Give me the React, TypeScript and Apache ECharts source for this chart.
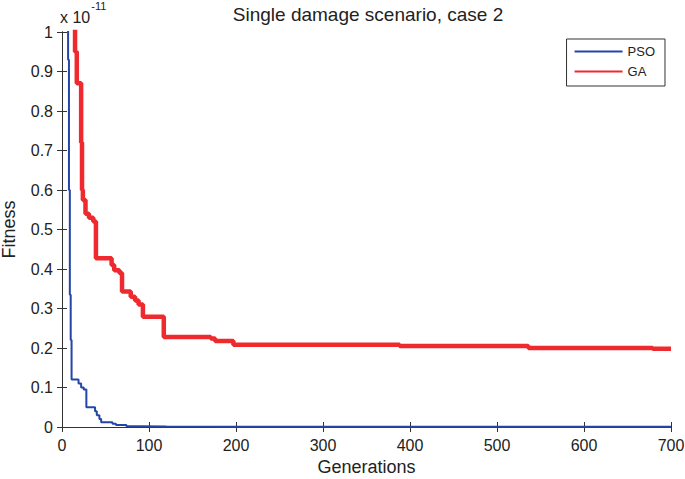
import React, { useEffect, useRef } from "react";
import * as echarts from "echarts";

const xTicks = [0, 100, 200, 300, 400, 500, 600, 700];
const yTicks = [0, 0.1, 0.2, 0.3, 0.4, 0.5, 0.6, 0.7, 0.8, 0.9, 1];

// [generation, fitness (x 1e-11)] — value held from this generation onward
const psoData: [number, number][] = [
  [1, 3], [7, 0.93], [8, 0.6], [9, 0.335], [10, 0.22], [11, 0.12], [19, 0.11],
  [22, 0.1], [25, 0.095], [28, 0.05], [38, 0.04], [40, 0.03], [43, 0.02],
  [45, 0.012], [58, 0.008], [62, 0.005], [74, 0.002], [90, 0.001],
  [120, 0.0005], [700, 0.0005],
];
const gaData: [number, number][] = [
  [1, 3], [15, 0.95], [17, 0.87], [22, 0.72], [23, 0.6], [24, 0.575],
  [27, 0.54], [31, 0.53], [36, 0.52], [39, 0.427], [57, 0.41], [60, 0.397],
  [66, 0.39], [69, 0.343], [79, 0.33], [84, 0.32], [88, 0.31], [93, 0.279],
  [117, 0.228], [171, 0.224], [176, 0.218], [197, 0.208], [388, 0.205],
  [536, 0.2], [679, 0.198], [700, 0.198],
];

const FONT = "Liberation Sans, Arial, sans-serif";

export default function App() {
  const ref = useRef<HTMLDivElement>(null);
  useEffect(() => {
    if (!ref.current) return;
    const chart = echarts.init(ref.current, undefined, { renderer: "svg" });
    const axisLine = { show: true, lineStyle: { color: "#333", width: 1 } };
    const axisTick = { show: true, inside: true, length: 5, lineStyle: { color: "#333" } };
    chart.setOption({
      animation: false,
      backgroundColor: "#fff",
      title: {
        text: "Single damage scenario, case 2",
        left: 363,
        textAlign: "center",
        top: 0,
        textStyle: { fontFamily: FONT, fontSize: 19, fontWeight: "normal", color: "#222" },
      },
      graphic: [
        {
          type: "text",
          left: 60,
          top: 0,
          style: {
            text: "{a|x 10}{b|-11}",
            rich: {
              a: { fontFamily: FONT, fontSize: 16, fill: "#222", padding: [9, 0, 0, 0] },
              b: { fontFamily: FONT, fontSize: 11, fill: "#222", verticalAlign: "top", padding: [0, 0, 10, 1] },
            },
          },
        },
      ],
      legend: {
        right: 20,
        top: 39,
        orient: "vertical",
        backgroundColor: "#fff",
        borderColor: "#333",
        borderWidth: 1,
        borderRadius: 0,
        padding: [6, 10, 8, 7],
        itemWidth: 48,
        itemHeight: 14,
        itemGap: 7,
        itemTextGap: 6,
        itemStyle: { opacity: 0 },
        textStyle: { fontFamily: FONT, fontSize: 13, color: "#222" },
        data: ["PSO", "GA"],
      },
      grid: {
        left: 62,
        right: 14,
        top: 32,
        bottom: 52,
        show: false,
        containLabel: false,
        outerBoundsMode: "none",
      },
      xAxis: [
        {
          type: "value",
          min: 0,
          max: 700,
          interval: 100,
          name: "Generations",
          nameLocation: "middle",
          nameGap: 30,
          nameTextStyle: { fontFamily: FONT, fontSize: 18, color: "#222" },
          axisLine,
          axisTick,
          splitLine: { show: false },
          axisLabel: { fontFamily: FONT, fontSize: 16, color: "#222", margin: 10 },
        },
        {
          type: "value",
          position: "top",
          min: 0,
          max: 700,
          interval: 100,
          axisLine,
          axisTick,
          splitLine: { show: false },
          axisLabel: { show: false },
        },
      ],
      yAxis: [
        {
          type: "value",
          min: 0,
          max: 1,
          interval: 0.1,
          name: "Fitness",
          nameLocation: "middle",
          nameGap: 44,
          nameTextStyle: { fontFamily: FONT, fontSize: 18, color: "#222" },
          axisLine,
          axisTick,
          splitLine: { show: false },
          axisLabel: {
            fontFamily: FONT,
            fontSize: 16,
            color: "#222",
            margin: 9,
            formatter: (v: number) => {
              const r = Math.round(v * 10) / 10;
              return yTicks.includes(r) ? String(r) : "";
            },
          },
        },
        {
          type: "value",
          position: "right",
          min: 0,
          max: 1,
          interval: 0.1,
          axisLine,
          axisTick,
          splitLine: { show: false },
          axisLabel: { show: false },
        },
      ],
      series: [
        {
          name: "PSO",
          type: "line",
          data: psoData,
          step: "end",
          symbol: "none",
          clip: true,
          lineStyle: { color: "#2346a8", width: 2 },
          itemStyle: { color: "#2346a8" },
          z: 3,
        },
        {
          name: "GA",
          type: "line",
          data: gaData,
          step: "end",
          symbol: "none",
          clip: true,
          lineStyle: { color: "#ee2a2e", width: 4.5 },
          itemStyle: { color: "#ee2a2e" },
          z: 2,
        },
      ],
    });
    return () => chart.dispose();
  }, []);
  return <div ref={ref} style={{ width: 685, height: 479, position: "absolute", left: 0, top: 0 }} />;
}

void xTicks;
